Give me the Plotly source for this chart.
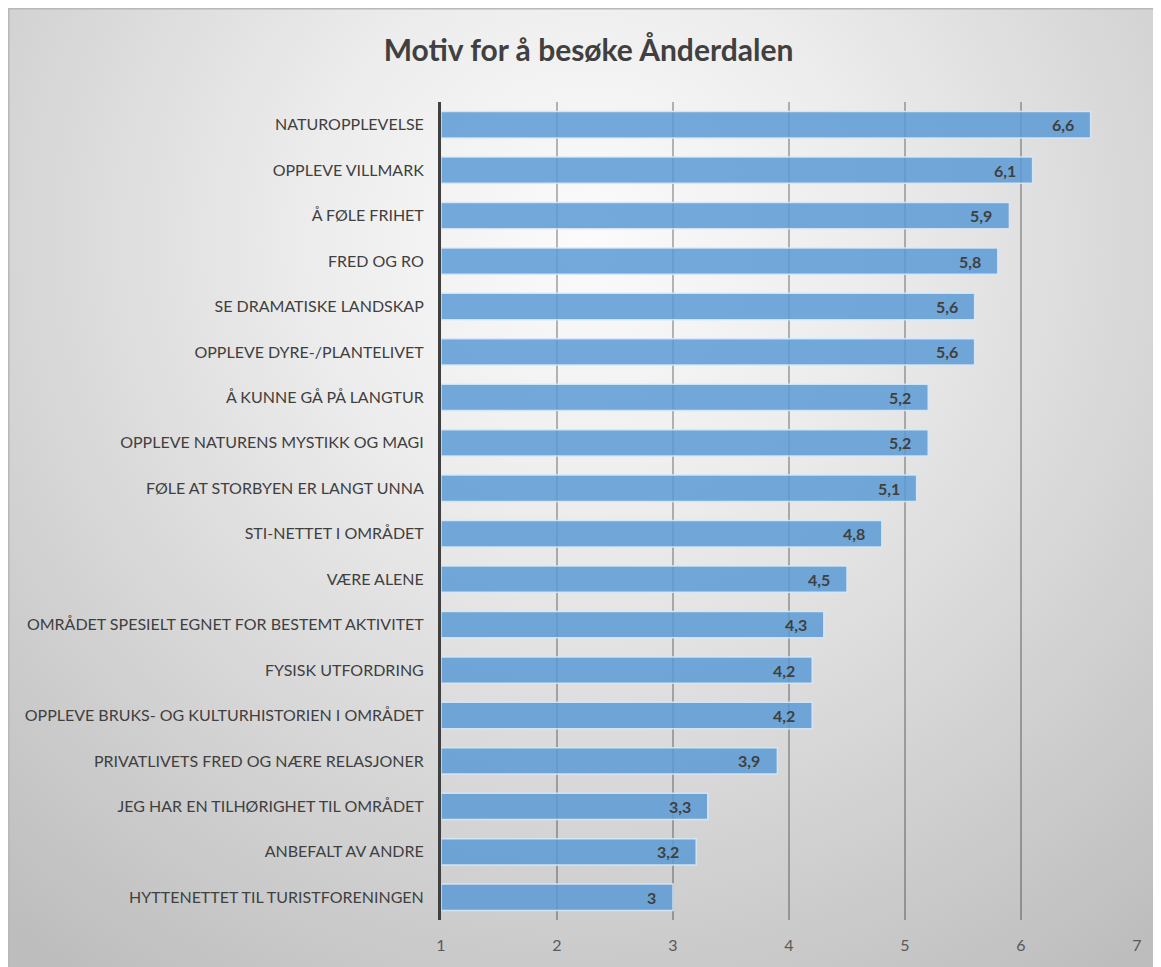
import base64
import plotly.graph_objects as go

categories = [
    "NATUROPPLEVELSE",
    "OPPLEVE VILLMARK",
    "Å FØLE FRIHET",
    "FRED OG RO",
    "SE DRAMATISKE LANDSKAP",
    "OPPLEVE DYRE-/PLANTELIVET",
    "Å KUNNE GÅ PÅ LANGTUR",
    "OPPLEVE NATURENS MYSTIKK OG MAGI",
    "FØLE AT STORBYEN ER LANGT UNNA",
    "STI-NETTET I OMRÅDET",
    "VÆRE ALENE",
    "OMRÅDET SPESIELT EGNET FOR BESTEMT AKTIVITET",
    "FYSISK UTFORDRING",
    "OPPLEVE BRUKS- OG KULTURHISTORIEN I OMRÅDET",
    "PRIVATLIVETS FRED OG NÆRE RELASJONER",
    "JEG HAR EN TILHØRIGHET TIL OMRÅDET",
    "ANBEFALT AV ANDRE",
    "HYTTENETTET TIL TURISTFORENINGEN",
]
values = [6.6, 6.1, 5.9, 5.8, 5.6, 5.6, 5.2, 5.2, 5.1, 4.8, 4.5, 4.3, 4.2, 4.2, 3.9, 3.3, 3.2, 3.0]
x_ticks = [1, 2, 3, 4, 5, 6, 7]
axis_min = 1
axis_max = 7
title = "Motiv for å besøke Ånderdalen"

labels = [f"{v:g}".replace(".", ",") for v in values]

FONT = "Lato, 'Open Sans', sans-serif"
W, H = 1161, 967
L, R, T, B = 433, 32, 94, 55
pw, ph = W - L - R, H - T - B

svg = f'''<svg xmlns="http://www.w3.org/2000/svg" width="{W}" height="{H}" viewBox="0 0 {W} {H}" preserveAspectRatio="none">
<defs><radialGradient id="g" gradientUnits="userSpaceOnUse" cx="580" cy="230" r="900" fx="580" fy="230">
<stop offset="0" stop-color="#fbfbfb"/><stop offset="0.3" stop-color="#ededed"/><stop offset="1" stop-color="#bdbdbd"/></radialGradient></defs>
<rect x="0.75" y="0.75" width="{W + 20}" height="{H + 20}" fill="url(#g)" stroke="#b8b8b8" stroke-width="1.5"/>
</svg>'''
src = "data:image/svg+xml;base64," + base64.b64encode(svg.encode()).decode()

fig = go.Figure()
fig.add_trace(go.Bar(
    y=categories,
    x=[v - axis_min for v in values],
    base=axis_min,
    orientation="h",
    width=0.58,
    marker=dict(color="rgba(91,155,213,0.85)", line=dict(color="rgba(215,232,248,0.9)", width=1.5)),
    hoverinfo="skip",
))

for c, v, t in zip(categories, values, labels):
    fig.add_annotation(x=v, y=c, text=f"<b>{t}</b>", showarrow=False, xanchor="right",
                       xshift=-15, font=dict(family=FONT, size=16, color="#404040"))

fig.add_layout_image(dict(
    source=src, xref="paper", yref="paper",
    x=-L / pw, y=(H - B) / ph,
    sizex=W / pw, sizey=H / ph,
    sizing="stretch", xanchor="left", yanchor="top", layer="below",
))

fig.update_layout(
    width=W, height=H,
    margin=dict(l=L, r=R, t=T, b=B),
    paper_bgcolor="white",
    plot_bgcolor="rgba(0,0,0,0)",
    showlegend=False,
    title=dict(text=f"<b>{title}</b>", x=(W) / 2 / W, xanchor="center", y=1 - 42 / H, yanchor="middle",
               font=dict(family=FONT, size=30, color="#404040")),
    xaxis=dict(range=[axis_min, axis_max], tickvals=x_ticks, showgrid=True,
               gridcolor="rgba(0,0,0,0.27)", gridwidth=1.5, zeroline=False, showline=False,
               ticks="", ticklabelstandoff=14,
               tickfont=dict(family=FONT, size=16, color="#595959")),
    yaxis=dict(autorange="reversed", showgrid=False, showline=True, linecolor="#404040", linewidth=3,
               ticks="", ticklabelstandoff=11,
               tickfont=dict(family=FONT, size=16, color="#404040")),
)

fig.write_html("out.html")
